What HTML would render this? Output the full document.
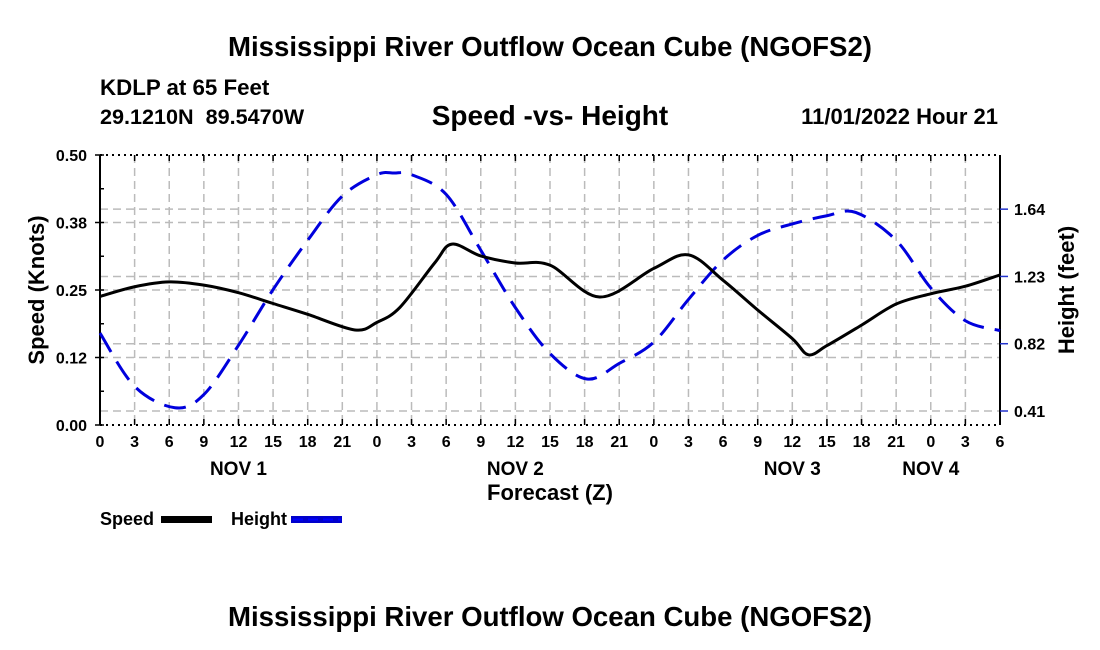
<!DOCTYPE html>
<html><head><meta charset="utf-8"><style>
body{margin:0;background:#fff;width:1100px;height:650px;overflow:hidden;font-family:"Liberation Sans",sans-serif}
svg{display:block}
text{font-family:"Liberation Sans",sans-serif;font-weight:bold;fill:#000}
</style></head><body>
<svg id="chart" width="1100" height="650">
<text x="550" y="56" font-size="27.6" text-anchor="middle">Mississippi River Outflow Ocean Cube (NGOFS2)</text>
<text x="100" y="95" font-size="22.3">KDLP at 65 Feet</text>
<text x="100" y="124" font-size="21.6" xml:space="preserve">29.1210N  89.5470W</text>
<text x="550" y="125" font-size="28" text-anchor="middle">Speed -vs- Height</text>
<text x="998" y="124" font-size="22" text-anchor="end">11/01/2022 Hour 21</text>
<g id="grid"></g>
<g id="axes"></g>
<path id="height-line" fill="none" stroke="#0000dd" stroke-width="3" stroke-dasharray="22,11"/>
<path id="speed-line" fill="none" stroke="#000" stroke-width="3"/>
<text x="550" y="500" font-size="22" text-anchor="middle">Forecast (Z)</text>
<text transform="translate(44,290) rotate(-90)" font-size="22" text-anchor="middle">Speed (Knots)</text>
<text transform="translate(1074,290) rotate(-90)" font-size="22" text-anchor="middle">Height (feet)</text>
<g>
<text x="100" y="525" font-size="18">Speed</text>
<rect x="161" y="516" width="51" height="7" fill="#000"/>
<text x="231" y="525" font-size="18">Height</text>
<rect x="291" y="516" width="51" height="7" fill="#0000cc"/>
<line x1="293" y1="519.5" x2="341" y2="519.5" stroke="#0000ff" stroke-width="2" stroke-dasharray="10,5"/>
</g>
<text x="550" y="626" font-size="27.6" text-anchor="middle">Mississippi River Outflow Ocean Cube (NGOFS2)</text>
</svg>
<script>
const speedHours=[0,3,6,9,12,15,18,22.1,24,26,29,30.5,33,36,39,43.3,48,51,54,57,60,61.4,63,66,69,72,75,78];
const speedValues=[0.238,0.256,0.265,0.259,0.245,0.225,0.205,0.176,0.19,0.218,0.30,0.335,0.313,0.300,0.296,0.237,0.290,0.315,0.268,0.213,0.160,0.130,0.147,0.185,0.224,0.243,0.257,0.278];
const heightHours=[0,3,6.5,9,12,15,18,21,24,25.5,27,30,33,36,39,42.2,45,48,51,54,57,60,63,65.5,69,72,75,78];
const heightValues=[0.885,0.56,0.43,0.51,0.81,1.15,1.45,1.72,1.85,1.86,1.85,1.73,1.39,1.04,0.76,0.605,0.70,0.83,1.09,1.33,1.48,1.55,1.60,1.62,1.45,1.16,0.96,0.90];
const xTickLabels=["0","3","6","9","12","15","18","21","0","3","6","9","12","15","18","21","0","3","6","9","12","15","18","21","0","3","6"];
const dayLabels=["NOV 1","NOV 2","NOV 3","NOV 4"];
const dayHours=[12,36,60,72];
const speedTicks=[0,0.125,0.25,0.375,0.5];
const speedTickLabels=["0.00","0.12","0.25","0.38","0.50"];
const heightTicks=[0.41,0.82,1.23,1.64];
const heightTickLabels=["0.41","0.82","1.23","1.64"];
const X0=100,X1=1000,Y0=425,Y1=155;
const x=h=>X0+(h/78)*(X1-X0);
const yS=v=>Y0-(v/0.5)*(Y0-Y1);
const yH=v=>411-(v-0.41)*164.1;
const NS='http://www.w3.org/2000/svg';
function mk(tag,attrs,parent){const e=document.createElementNS(NS,tag);for(const k in attrs)e.setAttribute(k,attrs[k]);parent.appendChild(e);return e;}
const grid=document.getElementById('grid'),axes=document.getElementById('axes');
const gs={stroke:'#bbb','stroke-width':1.5,'stroke-dasharray':'8,5'};
for(let i=1;i<xTickLabels.length-1;i++){const l=mk('line',Object.assign({x1:x(i*3),x2:x(i*3),y1:Y1,y2:Y0},gs),grid);

}
speedTicks.slice(1,-1).forEach(v=>{const l=mk('line',Object.assign({x1:X0,x2:X1,y1:yS(v),y2:yS(v)},gs),grid);

});
heightTicks.forEach(v=>{const l=mk('line',Object.assign({x1:X0,x2:X1,y1:yH(v),y2:yH(v)},gs),grid);

});
mk('line',{x1:X0,x2:X1,y1:Y1,y2:Y1,stroke:'#000','stroke-width':2,'stroke-dasharray':'2,4'},axes);
mk('line',{x1:X0,x2:X1,y1:Y0,y2:Y0,stroke:'#000','stroke-width':2,'stroke-dasharray':'2,4'},axes);
mk('line',{x1:X0,x2:X0,y1:Y1,y2:Y0,stroke:'#000','stroke-width':2},axes);
mk('line',{x1:X1,x2:X1,y1:Y1,y2:Y0,stroke:'#000','stroke-width':2},axes);
xTickLabels.forEach((t,i)=>{const h=i*3;
mk('line',{x1:x(h),x2:x(h),y1:Y0,y2:Y0-6,stroke:'#000','stroke-width':1.5},axes);
mk('line',{x1:x(h),x2:x(h),y1:Y1,y2:Y1+6,stroke:'#000','stroke-width':1.5},axes);
const tx=mk('text',{x:x(h),y:Y0+22,'font-size':16,'text-anchor':'middle'},axes);tx.textContent=t;

});
dayLabels.forEach((d,i)=>{const tx=mk('text',{x:x(dayHours[i]),y:Y0+50,'font-size':19,'text-anchor':'middle'},axes);tx.textContent=d;

});
speedTicks.forEach((v,i)=>{mk('line',{x1:X0-5,x2:X0+4,y1:yS(v),y2:yS(v),stroke:'#000','stroke-width':1.5},axes);
const tx=mk('text',{x:X0-13,y:yS(v)+6,'font-size':16,'text-anchor':'end'},axes);tx.textContent=speedTickLabels[i];

});
for(let v=0.0625;v<0.5;v+=0.125)mk('line',{x1:X0,x2:X0+4,y1:yS(v),y2:yS(v),stroke:'#000','stroke-width':1.5},axes);
heightTicks.forEach((v,i)=>{mk('line',{x1:X1,x2:X1+8,y1:yH(v),y2:yH(v),stroke:'#2233cc','stroke-width':1.5},axes);
const tx=mk('text',{x:X1+14,y:yH(v)+6,'font-size':16},axes);tx.textContent=heightTickLabels[i];

});
function smooth(pts){let d='M'+pts[0][0]+','+pts[0][1];
for(let i=0;i<pts.length-1;i++){const p0=pts[Math.max(0,i-1)],p1=pts[i],p2=pts[i+1],p3=pts[Math.min(pts.length-1,i+2)];
const c1=[p1[0]+(p2[0]-p0[0])/6,p1[1]+(p2[1]-p0[1])/6],c2=[p2[0]-(p3[0]-p1[0])/6,p2[1]-(p3[1]-p1[1])/6];
d+=' C'+c1[0]+','+c1[1]+' '+c2[0]+','+c2[1]+' '+p2[0]+','+p2[1];}return d;}
document.getElementById('speed-line').setAttribute('d',smooth(speedHours.map((h,i)=>[x(h),yS(speedValues[i])])));
document.getElementById('height-line').setAttribute('d',smooth(heightHours.map((h,i)=>[x(h),yH(heightValues[i])])));
</script>
</body></html>
